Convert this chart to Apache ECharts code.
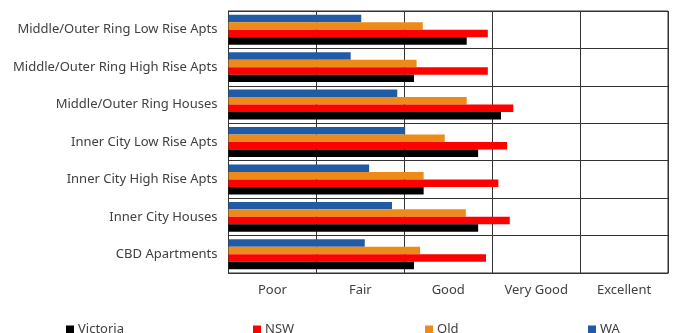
<!DOCTYPE html>
<html>
<head>
<meta charset="utf-8">
<script src="https://cdn.jsdelivr.net/npm/echarts@6/dist/echarts.min.js"></script>
<style>
  html, body { margin: 0; padding: 0; background: #fff; }
  #chart { width: 675px; height: 333px; }
</style>
</head>
<body>
<div id="chart"></div>
<script>
// Property types, listed top to bottom
const categories = [
  'Middle/Outer Ring Low Rise Apts',
  'Middle/Outer Ring High Rise Apts',
  'Middle/Outer Ring Houses',
  'Inner City Low Rise Apts',
  'Inner City High Rise Apts',
  'Inner City Houses',
  'CBD Apartments'
];

// Rating scale shown under the axis
const ratingLabels = ['Poor', 'Fair', 'Good', 'Very Good', 'Excellent'];

// Average rating per state (0 = start of Poor, 5 = end of Excellent)
const victoria = [2.71, 2.11, 3.10, 2.84, 2.22, 2.84, 2.11];
const nsw      = [2.95, 2.95, 3.24, 3.17, 3.07, 3.20, 2.93];
const qld      = [2.21, 2.14, 2.71, 2.46, 2.22, 2.70, 2.18];
const wa       = [1.51, 1.39, 1.92, 2.01, 1.60, 1.86, 1.55];

const seriesDefs = [
  { name: 'Victoria', data: victoria, color: '#000000' },
  { name: 'NSW',      data: nsw,      color: '#ff0000' },
  { name: 'Qld',      data: qld,      color: '#ee8a18' },
  { name: 'WA',       data: wa,       color: '#1f5ba6' }
];

const FONT = 'Noto Sans';
const legendLefts = [66, 253, 425, 588];

const chart = echarts.init(document.getElementById('chart'), null, { renderer: 'canvas' });

chart.setOption({
  animation: false,
  backgroundColor: '#ffffff',
  grid: {
    left: 228.5, right: 7, top: 11, bottom: 60,
    show: true, borderColor: '#333', borderWidth: 1
  },
  // one legend per state so the keys sit at fixed positions
  legend: seriesDefs.map((s, i) => ({
    data: [s.name],
    left: legendLefts[i],
    top: 323,
    itemWidth: 8,
    itemHeight: 8,
    itemGap: 0,
    icon: 'rect',
    padding: 0,
    textStyle: { fontFamily: FONT, fontSize: 13, color: '#404040', padding: [0, 0, 0, -1] }
  })),
  xAxis: [
    {
      type: 'value',
      min: 0, max: 5, interval: 1,
      axisLine: { show: true, lineStyle: { color: '#333', width: 1 } },
      axisTick: { show: false },
      axisLabel: { show: false },
      splitLine: { show: true, lineStyle: { color: '#333', width: 1 } }
    },
    {
      type: 'category',
      position: 'bottom',
      data: ratingLabels,
      boundaryGap: true,
      axisLine: { show: false },
      axisTick: { show: false },
      splitLine: { show: false },
      axisLabel: { fontFamily: FONT, fontSize: 13, color: '#404040', margin: 11 }
    }
  ],
  yAxis: {
    type: 'category',
    data: categories,
    inverse: true,
    axisLine: { show: true, lineStyle: { color: '#333', width: 1 } },
    axisTick: { show: false },
    splitLine: { show: true, interval: 0, lineStyle: { color: '#333', width: 1 } },
    axisLabel: { fontFamily: FONT, fontSize: 13, color: '#404040', margin: 11, interval: 0 }
  },
  // WA drawn first so it sits at the top of each group on the inverted axis
  series: seriesDefs.slice().reverse().map(s => ({
    name: s.name,
    type: 'bar',
    xAxisIndex: 0,
    data: s.data,
    barGap: '0%',
    barCategoryGap: '20%',
    itemStyle: { color: s.color },
    emphasis: { disabled: true }
  }))
});
</script>
</body>
</html>
